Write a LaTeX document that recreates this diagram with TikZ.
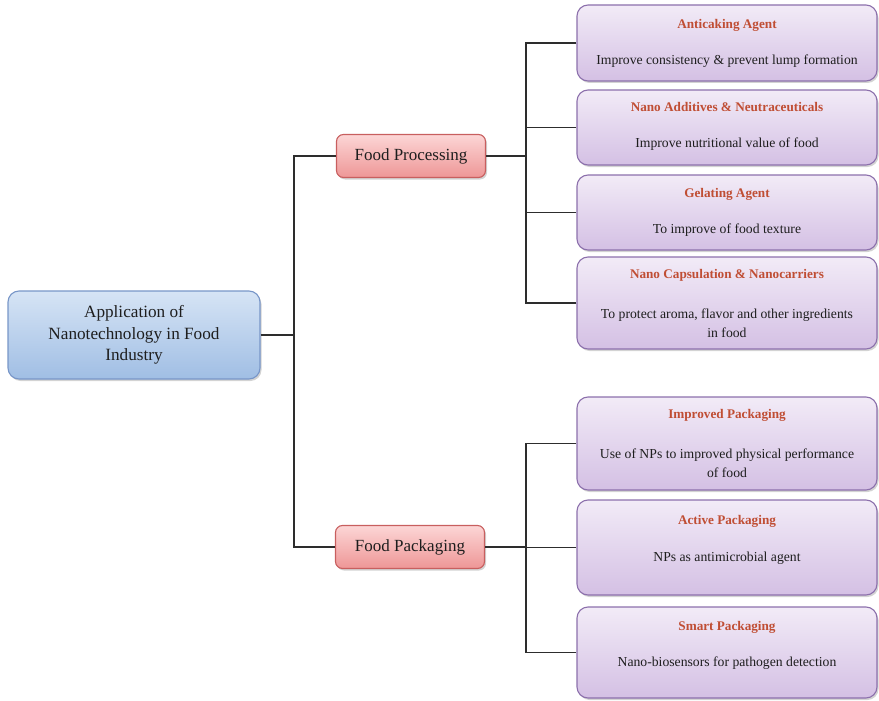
\documentclass[tikz,border=0pt]{standalone}
\usepackage{fontspec}
\setmainfont{Liberation Serif}
\usetikzlibrary{shadows}

\definecolor{rootTop}{RGB}{214,228,245}
\definecolor{rootBot}{RGB}{160,190,228}
\definecolor{rootEdge}{RGB}{120,150,200}
\definecolor{pinkTop}{RGB}{252,214,214}
\definecolor{pinkBot}{RGB}{238,150,150}
\definecolor{pinkEdge}{RGB}{200,95,95}
\definecolor{lilacTop}{RGB}{242,235,247}
\definecolor{lilacBot}{RGB}{212,192,228}
\definecolor{lilacEdge}{RGB}{140,112,172}
\definecolor{titleRed}{RGB}{192,78,52}
\definecolor{inkDark}{RGB}{30,30,30}
\definecolor{wire}{RGB}{45,45,45}

\tikzset{
  boxshadow/.style={drop shadow={opacity=0.35, shadow xshift=1.5pt, shadow yshift=-2pt}},
  rootbox/.style={rounded corners=11pt, draw=rootEdge, line width=1.1pt,
    top color=rootTop, bottom color=rootBot, boxshadow,
    minimum width=252pt, minimum height=88pt, align=center,
    font=\fontsize{17.2}{21.5}\selectfont, text=inkDark, inner sep=0pt},
  branchbox/.style={rounded corners=7pt, draw=pinkEdge, line width=1.1pt,
    top color=pinkTop, bottom color=pinkBot, boxshadow,
    minimum width=149pt, minimum height=43pt,
    font=\fontsize{17}{19}\selectfont, text=inkDark, inner sep=0pt},
  leafbox/.style={rounded corners=11pt, draw=lilacEdge, line width=1.1pt,
    top color=lilacTop, bottom color=lilacBot, boxshadow,
    minimum width=300pt, inner sep=0pt},
  leaftitle/.style={font=\bfseries\fontsize{13.2}{15}\selectfont, text=titleRed, inner sep=0pt},
  leaftext/.style={font=\fontsize{13.7}{19}\selectfont, text=inkDark, align=center, inner sep=0pt},
  link/.style={draw=wire, line width=1.4pt},
}

\begin{document}
\begin{tikzpicture}[x=1pt,y=-1pt]
\useasboundingbox (0,0) rectangle (879,701);

% root and the two branches
\node[rootbox] (root) at (134,335) {Application of\\Nanotechnology in Food\\Industry};
\node[branchbox] (proc) at (411,156) {Food Processing};
\node[branchbox] (pack) at (410,547) {Food Packaging};

% processing leaves
\node[leafbox, minimum height=76pt] (b1) at (727,43) {};
\node[leaftitle] (b1t) at (727,25) {Anticaking Agent};
\node[leaftext] (b1d) at (727,61) {Improve consistency \& prevent lump formation};

\node[leafbox, minimum height=75pt] (b2) at (727,127.5) {};
\node[leaftitle] (b2t) at (727,107) {Nano Additives \& Neutraceuticals};
\node[leaftext] (b2d) at (727,144) {Improve nutritional value of food};

\node[leafbox, minimum height=75pt] (b3) at (727,212.5) {};
\node[leaftitle] (b3t) at (727,194) {Gelating Agent};
\node[leaftext] (b3d) at (727,230) {To improve of food texture};

\node[leafbox, minimum height=92pt] (b4) at (727,303) {};
\node[leaftitle] (b4t) at (727,275) {Nano Capsulation \& Nanocarriers};
\node[leaftext] (b4d) at (727,323) {To protect aroma, flavor and other ingredients\\in food};

% packaging leaves
\node[leafbox, minimum height=93pt] (b5) at (727,443.5) {};
\node[leaftitle] (b5t) at (727,415) {Improved Packaging};
\node[leaftext] (b5d) at (727,463) {Use of NPs to improved physical performance\\of food};

\node[leafbox, minimum height=95pt] (b6) at (727,547.5) {};
\node[leaftitle] (b6t) at (727,521) {Active Packaging};
\node[leaftext] (b6d) at (727,558) {NPs as antimicrobial agent};

\node[leafbox, minimum height=91pt] (b7) at (727,652.5) {};
\node[leaftitle] (b7t) at (727,627) {Smart Packaging};
\node[leaftext] (b7d) at (727,663) {Nano-biosensors for pathogen detection};

% junction points of the tree
\coordinate (j0) at (294,335);
\coordinate (j1) at (526,156);
\coordinate (j2) at (526,547);

% connectors
\draw[link] (root.east) -- (j0);
\draw[link] (proc.west) -| (j0);
\draw[link] (pack.west) -| (j0);

\draw[link] (proc.east) -- (j1);
\draw[link] (b1.west) -| (j1);
\draw[link] (b2.west) -| (j1);
\draw[link] (b3.west) -| (j1);
\draw[link] (b4.west) -| (j1);

\draw[link] (pack.east) -- (j2);
\draw[link] (b5.west) -| (j2);
\draw[link] (b6.west) -| (j2);
\draw[link] (b7.west) -| (j2);
\end{tikzpicture}
\end{document}
